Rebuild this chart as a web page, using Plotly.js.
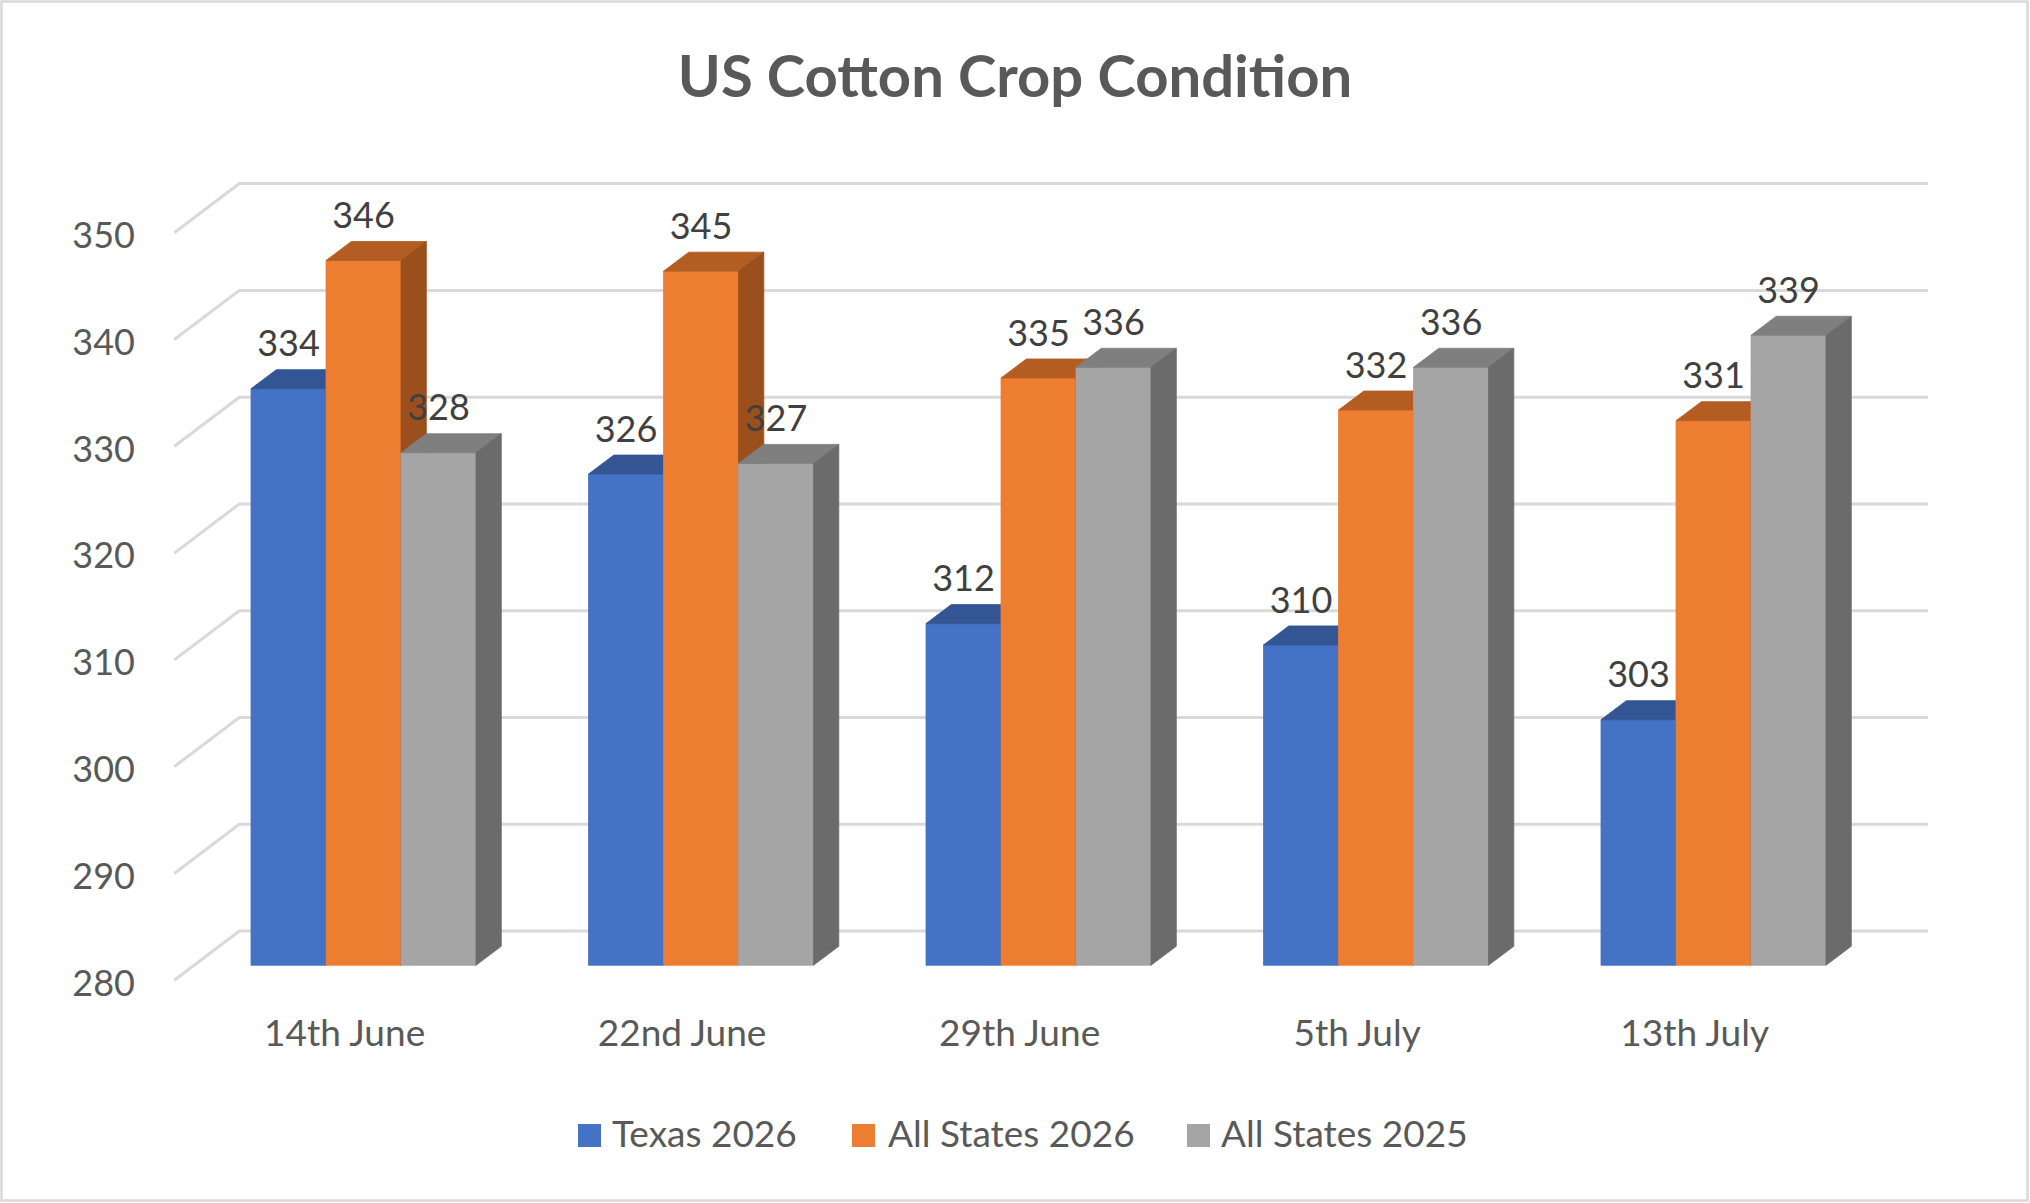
<!DOCTYPE html>
<html>
<head>
<meta charset="utf-8">
<script src="https://cdn.plot.ly/plotly-3.0.1.min.js"></script>
<style>
  html, body { margin: 0; padding: 0; background: #fff; }
  #chart { width: 2030px; height: 1203px; }
</style>
</head>
<body>
<div id="chart"></div>
<script>
// data
const categories = ['14th June', '22nd June', '29th June', '5th July', '13th July'];
const texas2026 = [334, 326, 312, 310, 303];
const allStates2026 = [346, 345, 335, 332, 331];
const allStates2025 = [328, 327, 336, 336, 339];
const yTicks = [280, 290, 300, 310, 320, 330, 340, 350];
const seriesNames = ['Texas 2026', 'All States 2026', 'All States 2025'];

// fake 3d look
const BASE = 280;
const W = 0.2222;     // bar width in category units
const DX = 0.075;     // bar depth, x
const DY = 1.78;      // bar depth, y (value units)
const LABEL_GAP = 0.4;
const WALL_X0 = -0.5606, WALL_X1 = -0.368, WALL_X2 = 4.6356;
const WALL_FRONT = -1.4, WALL_BACK = 3.2;
const TICK_SHIFT = -1.65;

const colors = [
  {front: '#4472C4', top: '#345594', side: '#2B4A80'},
  {front: '#ED7D31', top: '#B45D22', side: '#9A4F1D'},
  {front: '#A5A5A5', top: '#7F7F7F', side: '#6B6B6B'}
];

// plot area in pixels
const PL = 150, PT = 111, PW = 1840, PH = 897;
const px2x = p => (p - PL) / PW;
const px2y = p => (PT + PH - p) / PH;

let traces = [];

// walls: back gridlines + left side diagonals
let gx = [], gy = [];
yTicks.forEach(v => {
  gx.push(WALL_X0, WALL_X1, WALL_X2, null);
  gy.push(v + WALL_FRONT, v + WALL_BACK, v + WALL_BACK, null);
});
traces.push({
  x: gx, y: gy, type: 'scatter', mode: 'lines',
  line: {color: '#D9D9D9', width: 3},
  hoverinfo: 'skip', showlegend: false
});

function faceTrace(xs, ys, color) {
  return {
    x: xs, y: ys, type: 'scatter', mode: 'lines', fill: 'toself',
    fillcolor: color, line: {color: color, width: 0.8},
    hoverinfo: 'skip', showlegend: false
  };
}

// front, top and side of each bar; drawn left to right so later bars hide earlier sides
const allSeries = [texas2026, allStates2026, allStates2025];
allSeries.forEach((vals, s) => {
  let fx = [], fy = [], tx = [], ty = [], sx = [], sy = [];
  vals.forEach((v, i) => {
    const L = i + (s - 1.5) * W, R = L + W;
    fx.push(L, R, R, L, L, null);
    fy.push(BASE, BASE, v, v, BASE, null);
    tx.push(L, R, R + DX, L + DX, L, null);
    ty.push(v, v, v + DY, v + DY, v, null);
    sx.push(R, R + DX, R + DX, R, R, null);
    sy.push(BASE, BASE + DY, v + DY, v, BASE, null);
  });
  traces.push(faceTrace(fx, fy, colors[s].front));
  traces.push(faceTrace(tx, ty, colors[s].top));
  traces.push(faceTrace(sx, sy, colors[s].side));
});

// value labels
allSeries.forEach((vals, s) => {
  traces.push({
    x: vals.map((v, i) => i + (s - 1) * W),
    y: vals.map(v => v + DY + LABEL_GAP),
    text: vals.map(String),
    type: 'scatter', mode: 'text', textposition: 'top center',
    textfont: {family: 'Lato', size: 36, color: '#404040'},
    hoverinfo: 'skip', showlegend: false, cliponaxis: false
  });
});

// legend drawn by hand (big swatches)
const legendSwatchX = [578, 852, 1187];
const legendTextX = [610, 886, 1219];
let shapes = [], annotations = [];
seriesNames.forEach((name, s) => {
  shapes.push({
    type: 'rect', xref: 'paper', yref: 'paper',
    x0: px2x(legendSwatchX[s]), x1: px2x(legendSwatchX[s] + 23),
    y0: px2y(1124), y1: px2y(1147),
    fillcolor: colors[s].front, line: {width: 0}
  });
  annotations.push({
    xref: 'paper', yref: 'paper',
    x: px2x(legendTextX[s]), y: px2y(1132),
    xanchor: 'left', yanchor: 'middle', showarrow: false,
    text: name, font: {family: 'Lato', size: 37, color: '#595959'}
  });
});

// chart border
shapes.push({
  type: 'rect', xref: 'paper', yref: 'paper',
  x0: px2x(1.5), x1: px2x(2027.5), y0: px2y(1.5), y1: px2y(1200.5),
  line: {color: '#D9D9D9', width: 2.5}
});

let layout = {
  width: 2030, height: 1203,
  margin: {l: PL, r: 2030 - PL - PW, t: PT, b: 1203 - PT - PH},
  paper_bgcolor: '#fff', plot_bgcolor: '#fff',
  title: {
    text: '<b>US Cotton Crop Condition</b>',
    font: {family: 'Lato', size: 58, color: '#595959'},
    xref: 'container', x: 0.5, yref: 'container', y: 1 - 77 / 1203, yanchor: 'middle'
  },
  // group 0 centre sits at pixel 363.5, 337.5 px per group
  xaxis: {
    range: [(PL - 363.5) / 337.5, (PL + PW - 363.5) / 337.5],
    tickvals: categories.map((c, i) => i - 0.056),
    ticktext: categories,
    ticks: '', showgrid: false, zeroline: false, showline: false,
    tickfont: {family: 'Lato', size: 37, color: '#595959'},
    fixedrange: true
  },
  yaxis: {
    range: [276, 360],
    tickvals: yTicks.map(v => v + TICK_SHIFT),
    ticktext: yTicks.map(String),
    ticks: '', showgrid: false, zeroline: false, showline: false,
    ticklabelstandoff: 14,
    tickfont: {family: 'Lato', size: 36, color: '#595959'},
    fixedrange: true
  },
  showlegend: false,
  shapes: shapes,
  annotations: annotations
};

Plotly.newPlot('chart', traces, layout, {displayModeBar: false, staticPlot: true});
</script>
</body>
</html>
